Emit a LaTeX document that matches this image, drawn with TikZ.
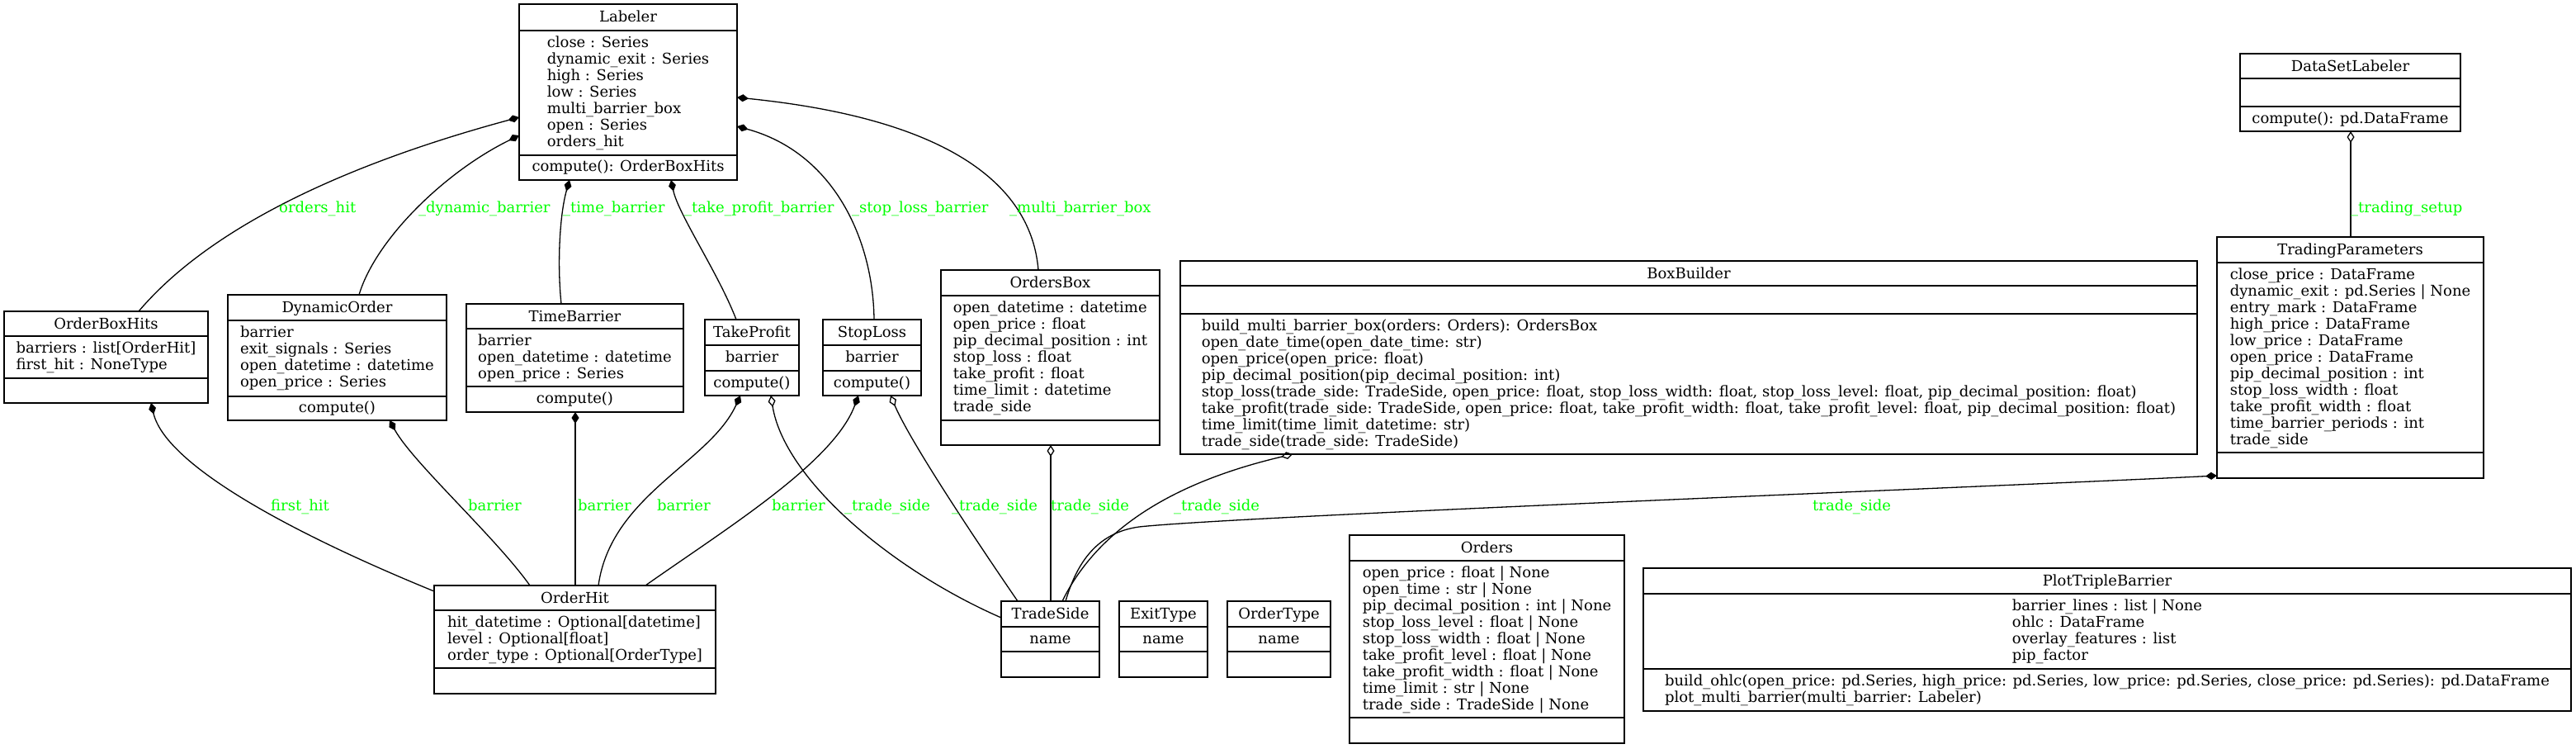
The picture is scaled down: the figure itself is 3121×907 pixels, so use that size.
\documentclass[tikz,border=0pt]{standalone}
\usepackage{fontspec}
\setmainfont{DejaVu Serif}
\usetikzlibrary{arrows.meta}
\definecolor{lblgreen}{RGB}{0,255,0}
\newcommand\umlfont{\fontsize{18}{20}\selectfont}
\newcommand\umlbox[8]{%
  \node[cls, minimum width={#4-#2}, minimum height={#7-#3}] (#1) at (#2,#3) {};
  \draw[divider] (#1.west |- 0,#5) -- (#1.east |- 0,#5);
  \draw[divider] (#1.west |- 0,#6) -- (#1.east |- 0,#6);
  \node[blk] (#1-title) at ({(#2+#4)/2},{#3+21.5}) {#8};
}
\begin{document}
\begin{tikzpicture}[x=1pt,y=-1pt,
  cls/.style={draw, line width=1.4pt, inner sep=0pt, outer sep=0pt, anchor=north west},
  divider/.style={line width=1.4pt},
  blk/.style={inner sep=0pt, anchor=base, font=\umlfont},
  lab/.style={inner sep=0pt, anchor=base west, font=\umlfont, text=lblgreen},
  conn/.style={line width=1.3pt},
  comp/.style={conn, {Diamond[length=14pt,width=9pt]}-},
  aggr/.style={conn, {Diamond[open,length=14pt,width=9pt]}-}]
\fill[white] (0,0) rectangle (3121,907);
\useasboundingbox (0,0) rectangle (3121,907);

% ---------- classes ----------
\umlbox{Labeler}{629}{5}{893}{37}{188}{218}{Labeler}
\node[blk] (Labeler-a) at (761,57.5) {\begin{tabular}[t]{@{}l@{}}close : Series\\dynamic\_exit : Series\\high : Series\\low : Series\\multi\_barrier\_box\\open : Series\\orders\_hit\end{tabular}};
\node[blk] (Labeler-m) at (761,207.5) {compute(): OrderBoxHits};

\umlbox{OrderBoxHits}{5}{377}{252}{407}{458}{488}{OrderBoxHits}
\node[blk] (OrderBoxHits-a) at (128.5,427.5) {\begin{tabular}[t]{@{}l@{}}barriers : list[OrderHit]\\first\_hit : NoneType\end{tabular}};

\umlbox{DynamicOrder}{276}{357}{541}{388}{480}{509}{DynamicOrder}
\node[blk] (DynamicOrder-a) at (408.5,408.5) {\begin{tabular}[t]{@{}l@{}}barrier\\exit\_signals : Series\\open\_datetime : datetime\\open\_price : Series\end{tabular}};
\node[blk] (DynamicOrder-m) at (408.5,499) {compute()};

\umlbox{TimeBarrier}{565}{368}{828}{398}{468}{499}{TimeBarrier}
\node[blk] (TimeBarrier-a) at (696.5,418.5) {\begin{tabular}[t]{@{}l@{}}barrier\\open\_datetime : datetime\\open\_price : Series\end{tabular}};
\node[blk] (TimeBarrier-m) at (696.5,488) {compute()};

\umlbox{TakeProfit}{854}{387}{968}{418}{449}{479}{TakeProfit}
\node[blk] (TakeProfit-a) at (911,438) {barrier};
\node[blk] (TakeProfit-m) at (911,469) {compute()};

\umlbox{StopLoss}{997}{387}{1116}{418}{449}{479}{StopLoss}
\node[blk] (StopLoss-a) at (1056.5,438) {barrier};
\node[blk] (StopLoss-m) at (1056.5,469) {compute()};

\umlbox{OrdersBox}{1140}{327}{1405}{358}{509}{539}{OrdersBox}
\node[blk] (OrdersBox-a) at (1272.5,378.5) {\begin{tabular}[t]{@{}l@{}}open\_datetime : datetime\\open\_price : float\\pip\_decimal\_position : int\\stop\_loss : float\\take\_profit : float\\time\_limit : datetime\\trade\_side\end{tabular}};

\umlbox{BoxBuilder}{1430}{316}{2662}{346}{380}{550}{BoxBuilder}
\node[blk] (BoxBuilder-m) at (2046,400.5) {\begin{tabular}[t]{@{}l@{}}build\_multi\_barrier\_box(orders: Orders): OrdersBox\\open\_date\_time(open\_date\_time: str)\\open\_price(open\_price: float)\\pip\_decimal\_position(pip\_decimal\_position: int)\\stop\_loss(trade\_side: TradeSide, open\_price: float, stop\_loss\_width: float, stop\_loss\_level: float, pip\_decimal\_position: float)\\take\_profit(trade\_side: TradeSide, open\_price: float, take\_profit\_width: float, take\_profit\_level: float, pip\_decimal\_position: float)\\time\_limit(time\_limit\_datetime: str)\\trade\_side(trade\_side: TradeSide)\end{tabular}};

\umlbox{DataSetLabeler}{2714}{65}{2981}{95}{129}{159}{DataSetLabeler}
\node[blk] (DataSetLabeler-m) at (2847.5,149) {compute(): pd.DataFrame};

\umlbox{TradingParameters}{2686}{287}{3009}{318}{548}{579}{TradingParameters}
\node[blk] (TradingParameters-a) at (2847.5,338.5) {\begin{tabular}[t]{@{}l@{}}close\_price : DataFrame\\dynamic\_exit : pd.Series | None\\entry\_mark : DataFrame\\high\_price : DataFrame\\low\_price : DataFrame\\open\_price : DataFrame\\pip\_decimal\_position : int\\stop\_loss\_width : float\\take\_profit\_width : float\\time\_barrier\_periods : int\\trade\_side\end{tabular}};

\umlbox{TradeSide}{1213}{728}{1332}{759}{789}{820}{TradeSide}
\node[blk] (TradeSide-a) at (1272.5,779) {name};
\umlbox{ExitType}{1356}{728}{1463}{759}{789}{820}{ExitType}
\node[blk] (ExitType-a) at (1409.5,779) {name};
\umlbox{OrderType}{1487}{728}{1612}{759}{789}{820}{OrderType}
\node[blk] (OrderType-a) at (1549.5,779) {name};

\umlbox{Orders}{1635}{648}{1968}{679}{869}{900}{Orders}
\node[blk] (Orders-a) at (1801.5,699.5) {\begin{tabular}[t]{@{}l@{}}open\_price : float | None\\open\_time : str | None\\pip\_decimal\_position : int | None\\stop\_loss\_level : float | None\\stop\_loss\_width : float | None\\take\_profit\_level : float | None\\take\_profit\_width : float | None\\time\_limit : str | None\\trade\_side : TradeSide | None\end{tabular}};

\umlbox{PlotTripleBarrier}{1991}{688}{3115}{719}{810}{861}{PlotTripleBarrier}
\node[blk] (PlotTripleBarrier-a) at (2553,739.5) {\begin{tabular}[t]{@{}l@{}}barrier\_lines : list | None\\ohlc : DataFrame\\overlay\_features : list\\pip\_factor\end{tabular}};
\node[blk] (PlotTripleBarrier-m) at (2553,830.5) {\begin{tabular}[t]{@{}l@{}}build\_ohlc(open\_price: pd.Series, high\_price: pd.Series, low\_price: pd.Series, close\_price: pd.Series): pd.DataFrame\\plot\_multi\_barrier(multi\_barrier: Labeler)\end{tabular}};

\umlbox{OrderHit}{526}{709}{867}{739}{809}{840}{OrderHit}
\node[blk] (OrderHit-a) at (696.5,759.5) {\begin{tabular}[t]{@{}l@{}}hit\_datetime : Optional[datetime]\\level : Optional[float]\\order\_type : Optional[OrderType]\end{tabular}};

% ---------- connectors ----------
\draw[comp] (Labeler.west |- 0,142) .. controls (429,196) and (258,271) .. (OrderBoxHits.north -| 168,0);
\draw[comp] (Labeler.west |- 0,164) .. controls (539,208) and (455,290) .. (DynamicOrder.north -| 435,0);
\draw[comp] (Labeler.south -| 690,0) .. controls (678,260) and (675,320) .. (TimeBarrier.north -| 680,0);
\draw[comp] (Labeler.south -| 813,0) .. controls (822,260) and (870,330) .. (TakeProfit.north -| 892,0);
\draw[comp] (Labeler.east |- 0,153) .. controls (1010,185) and (1058,290) .. (StopLoss.north -| 1059,0);
\draw[comp] (Labeler.east |- 0,118) .. controls (1160,145) and (1250,230) .. (OrdersBox.north -| 1258,0);

\draw[comp] (OrderBoxHits.south -| 183,0) .. controls (200,560) and (340,640) .. (OrderHit.west |- 0,716);
\draw[comp] (DynamicOrder.south -| 472,0) .. controls (500,560) and (600,650) .. (OrderHit.north -| 642,0);
\draw[comp] (TimeBarrier.south -| 697,0) -- (OrderHit.north -| 697,0);
\draw[comp] (TakeProfit.south -| 897,0) .. controls (860,560) and (740,600) .. (OrderHit.north -| 725,0);
\draw[comp] (StopLoss.south -| 1040,0) .. controls (1010,560) and (880,640) .. (OrderHit.north -| 782,0);

\draw[aggr] (TakeProfit.south -| 934,0) .. controls (950,580) and (1080,690) .. (TradeSide.west |- 0,748);
\draw[aggr] (StopLoss.south -| 1079,0) .. controls (1105,540) and (1200,680) .. (TradeSide.north -| 1233,0);
\draw[aggr] (OrdersBox.south -| 1273,0) -- (TradeSide.north -| 1273,0);
\draw[aggr] (BoxBuilder.south -| 1566,0) .. controls (1460,575) and (1340,620) .. (TradeSide.north -| 1287,0);
\draw[comp] (TradingParameters.west |- 0,576) .. controls (2400,590) and (1500,625) .. (1380,638) .. controls (1330,645) and (1305,680) .. (TradeSide.north -| 1291,0);
\draw[aggr] (DataSetLabeler.south -| 2848,0) -- (TradingParameters.north -| 2848,0);

% ---------- connector labels ----------
\node[lab] (L-ordershit) at (338,257.5) {orders\_hit};
\node[lab] (L-dynbar) at (507,257.5) {\_dynamic\_barrier};
\node[lab] (L-timebar) at (682,257.5) {\_time\_barrier};
\node[lab] (L-tpbar) at (829,257.5) {\_take\_profit\_barrier};
\node[lab] (L-slbar) at (1032,257.5) {\_stop\_loss\_barrier};
\node[lab] (L-mbb) at (1223,257.5) {\_multi\_barrier\_box};
\node[lab] (L-firsthit) at (328,618.5) {first\_hit};
\node[lab] (L-bar1) at (567,618.5) {barrier};
\node[lab] (L-bar2) at (700,618.5) {barrier};
\node[lab] (L-bar3) at (796,618.5) {barrier};
\node[lab] (L-bar4) at (935,618.5) {barrier};
\node[lab] (L-ts1) at (1023,618.5) {\_trade\_side};
\node[lab] (L-ts2) at (1153,618.5) {\_trade\_side};
\node[lab] (L-ts3) at (1273,618.5) {trade\_side};
\node[lab] (L-ts4) at (1422,618.5) {\_trade\_side};
\node[lab] (L-ts5) at (2196,618.5) {trade\_side};
\node[lab] (L-setup) at (2848,257.5) {\_trading\_setup};
\end{tikzpicture}
\end{document}
